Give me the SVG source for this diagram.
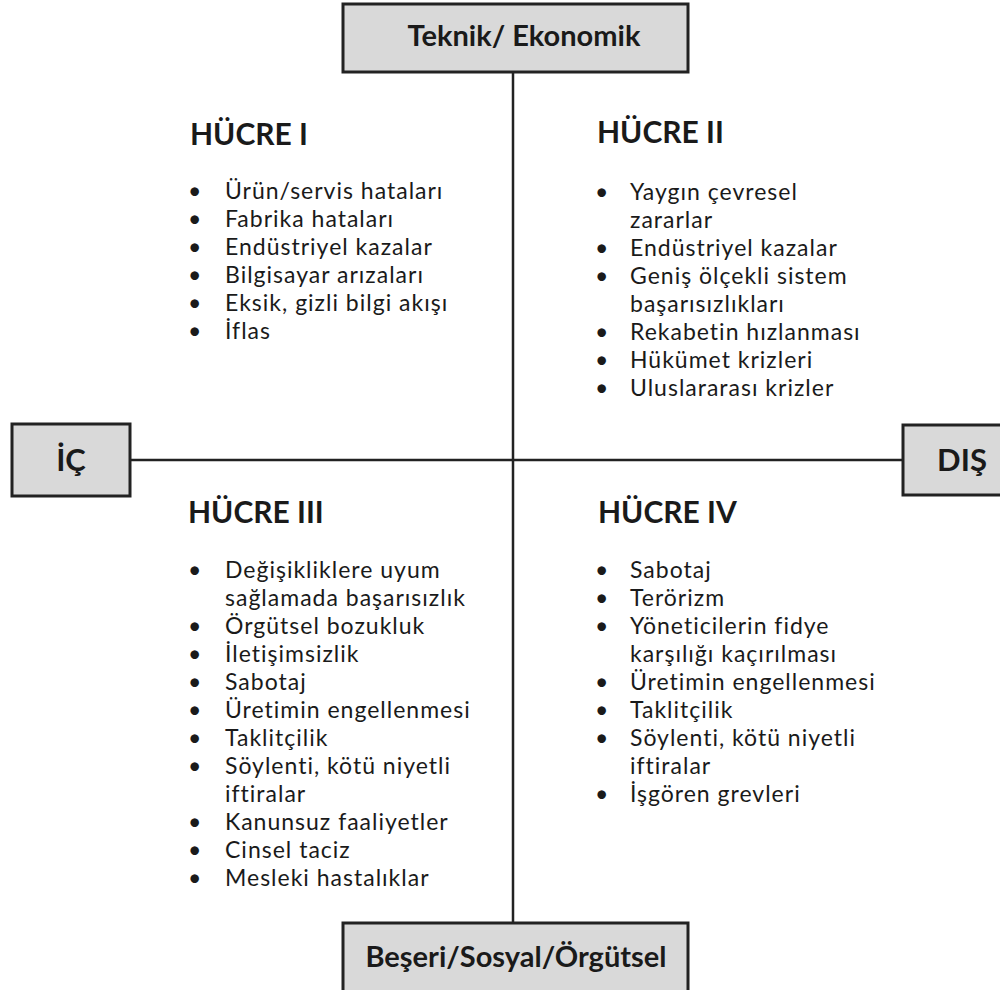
<svg xmlns="http://www.w3.org/2000/svg" width="1000" height="990" viewBox="0 0 1000 990">
  <style>
    .box { fill: #d9d9d9; stroke: #222; stroke-width: 3; }
    .axis { stroke: #222; stroke-width: 2.5; fill: none; }
    .lbl { font-family: Lato, "Open Sans", sans-serif; font-weight: bold; font-size: 29px; fill: #1a1a1a; text-anchor: middle; }
    .big { font-size: 31px; }
    .head { font-family: Lato, "Open Sans", sans-serif; font-weight: bold; font-size: 30px; fill: #1a1a1a; }
    .item { font-family: Lato, "Open Sans", sans-serif; font-size: 23px; letter-spacing: 1px; fill: #1a1a1a; }
  </style>

  <!-- axes -->
  <g id="connectors">
    <line class="axis" x1="513" y1="72" x2="513" y2="923"/>
    <line class="axis" x1="130" y1="460" x2="903" y2="460"/>
  </g>

  <g id="top">
    <rect class="box" x="343" y="4" width="345" height="68"/>
    <text class="lbl" x="524" y="46">Teknik/ Ekonomik</text>
  </g>

  <g id="left">
    <rect class="box" x="12" y="424" width="118" height="72"/>
    <text class="lbl big" x="71" y="471">İÇ</text>
  </g>

  <g id="right">
    <rect class="box" x="903" y="425" width="110" height="70"/>
    <text class="lbl big" x="962" y="471">DIŞ</text>
  </g>

  <g id="bottom">
    <rect class="box" x="343" y="923" width="345" height="80"/>
    <text class="lbl" x="516" y="967">Beşeri/Sosyal/Örgütsel</text>
  </g>

  <g id="cell1">
    <text class="head" x="190" y="145">HÜCRE I</text>
    <g class="item">
      <text x="188" y="199">•</text><text x="225" y="199">Ürün/servis hataları</text>
      <text x="188" y="227">•</text><text x="225" y="227">Fabrika hataları</text>
      <text x="188" y="255">•</text><text x="225" y="255">Endüstriyel kazalar</text>
      <text x="188" y="283">•</text><text x="225" y="283">Bilgisayar arızaları</text>
      <text x="188" y="311">•</text><text x="225" y="311">Eksik, gizli bilgi akışı</text>
      <text x="188" y="339">•</text><text x="225" y="339">İflas</text>
    </g>
  </g>

  <g id="cell2">
    <text class="head" x="597" y="143">HÜCRE II</text>
    <g class="item">
      <text x="595" y="200">•</text><text x="630" y="200">Yaygın çevresel</text>
      <text x="630" y="228">zararlar</text>
      <text x="595" y="256">•</text><text x="630" y="256">Endüstriyel kazalar</text>
      <text x="595" y="284">•</text><text x="630" y="284">Geniş ölçekli sistem</text>
      <text x="630" y="312">başarısızlıkları</text>
      <text x="595" y="340">•</text><text x="630" y="340">Rekabetin hızlanması</text>
      <text x="595" y="368">•</text><text x="630" y="368">Hükümet krizleri</text>
      <text x="595" y="396">•</text><text x="630" y="396">Uluslararası krizler</text>
    </g>
  </g>

  <g id="cell3">
    <text class="head" x="188" y="523">HÜCRE III</text>
    <g class="item">
      <text x="188" y="578">•</text><text x="225" y="578">Değişikliklere uyum</text>
      <text x="225" y="606">sağlamada başarısızlık</text>
      <text x="188" y="634">•</text><text x="225" y="634">Örgütsel bozukluk</text>
      <text x="188" y="662">•</text><text x="225" y="662">İletişimsizlik</text>
      <text x="188" y="690">•</text><text x="225" y="690">Sabotaj</text>
      <text x="188" y="718">•</text><text x="225" y="718">Üretimin engellenmesi</text>
      <text x="188" y="746">•</text><text x="225" y="746">Taklitçilik</text>
      <text x="188" y="774">•</text><text x="225" y="774">Söylenti, kötü niyetli</text>
      <text x="225" y="802">iftiralar</text>
      <text x="188" y="830">•</text><text x="225" y="830">Kanunsuz faaliyetler</text>
      <text x="188" y="858">•</text><text x="225" y="858">Cinsel taciz</text>
      <text x="188" y="886">•</text><text x="225" y="886">Mesleki hastalıklar</text>
    </g>
  </g>

  <g id="cell4">
    <text class="head" x="598" y="523">HÜCRE IV</text>
    <g class="item">
      <text x="595" y="578">•</text><text x="630" y="578">Sabotaj</text>
      <text x="595" y="606">•</text><text x="630" y="606">Terörizm</text>
      <text x="595" y="634">•</text><text x="630" y="634">Yöneticilerin fidye</text>
      <text x="630" y="662">karşılığı kaçırılması</text>
      <text x="595" y="690">•</text><text x="630" y="690">Üretimin engellenmesi</text>
      <text x="595" y="718">•</text><text x="630" y="718">Taklitçilik</text>
      <text x="595" y="746">•</text><text x="630" y="746">Söylenti, kötü niyetli</text>
      <text x="630" y="774">iftiralar</text>
      <text x="595" y="802">•</text><text x="630" y="802">İşgören grevleri</text>
    </g>
  </g>
</svg>
